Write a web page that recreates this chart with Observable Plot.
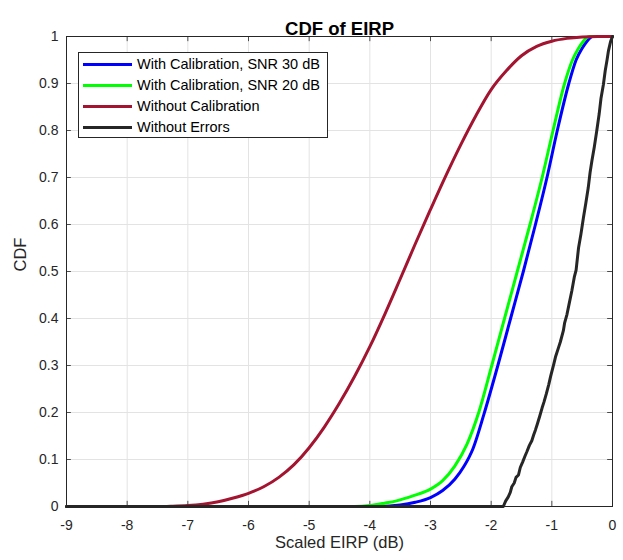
<!DOCTYPE html>
<html><head><meta charset="utf-8">
<script src="https://cdn.jsdelivr.net/npm/d3@7"></script>
<script src="https://cdn.jsdelivr.net/npm/@observablehq/plot@0.6"></script>
<style>
body{margin:0;background:#fff;}
#wrap{position:relative;width:623px;height:560px;font-family:"Liberation Sans",Arial,Helvetica,sans-serif;}
#legend{position:absolute;left:78px;top:52px;width:250px;height:86px;border:1px solid #262626;background:#fff;box-sizing:border-box;}
.row{position:absolute;left:0;height:21px;width:100%;font-size:14.5px;color:#000;}
.row svg{position:absolute;left:4px;top:0;}
.row span{position:absolute;left:58px;top:50%;transform:translateY(-50%);white-space:nowrap;}
</style></head><body><div id="wrap"></div>
<script>
const xTicks = [-9, -8, -7, -6, -5, -4, -3, -2, -1, 0];
const yTicks = [0, 0.1, 0.2, 0.3, 0.4, 0.5, 0.6, 0.7, 0.8, 0.9, 1];
const seriesNames = ["With Calibration, SNR 30 dB", "With Calibration, SNR 20 dB", "Without Calibration", "Without Errors"];
const seriesColors = ["#0000ff", "#00ff00", "#a2142f", "#262626"];

const blueX = [-9, -3.85, -3.5, -3.25, -3.0, -2.8, -2.6, -2.45, -2.3, -2.12, -1.89, -1.68, -1.47, -1.27, -1.08, -0.91, -0.72, -0.60, -0.50, -0.42, -0.37, -0.33, 0];
const blueY = [0, 0, 0.003, 0.009, 0.019, 0.034, 0.058, 0.085, 0.123, 0.196, 0.3, 0.4, 0.5, 0.6, 0.7, 0.8, 0.9, 0.95, 0.975, 0.99, 0.997, 1, 1];

const greenX = [-9, -4.25, -4.0, -3.76, -3.56, -3.28, -3.0, -2.8, -2.6, -2.4, -2.2, -1.99, -1.78, -1.57, -1.36, -1.16, -0.98, -0.79, -0.66, -0.56, -0.48, -0.43, -0.38, 0];
const greenY = [0, 0, 0.002, 0.007, 0.012, 0.023, 0.037, 0.055, 0.086, 0.132, 0.202, 0.3, 0.4, 0.5, 0.6, 0.7, 0.8, 0.9, 0.95, 0.975, 0.99, 0.997, 1, 1];

const redX = [-9, -7.4, -7.25, -7.0, -6.75, -6.5, -6.25, -6.0, -5.75, -5.5, -5.25, -5.0, -4.75, -4.5, -4.25, -4.0, -3.75, -3.5, -3.25, -3.0, -2.75, -2.5, -2.25, -2.0, -1.75, -1.5, -1.25, -1.0, -0.75, -0.5, -0.25, 0];
const redY = [0, 0, 0.0005, 0.002, 0.005, 0.010, 0.018, 0.028, 0.042, 0.062, 0.089, 0.125, 0.169, 0.220, 0.277, 0.340, 0.410, 0.484, 0.559, 0.632, 0.703, 0.770, 0.832, 0.887, 0.927, 0.959, 0.979, 0.990, 0.996, 0.999, 1, 1];

const blackX = [-9, -1.80, -1.76, -1.72, -1.685, -1.66, -1.62, -1.59, -1.55, -1.52, -1.48, -1.44, -1.41, -1.37, -1.33, -1.30, -1.27, -1.24, -1.20, -1.16, -1.13, -1.09, -1.05, -1.02, -0.97, -0.94, -0.89, -0.86, -0.81, -0.79, -0.75, -0.72, -0.67, -0.63, -0.60, -0.56, -0.52, -0.48, -0.44, -0.40, -0.37, -0.34, -0.30, -0.26, -0.22, -0.19, -0.15, -0.12, -0.09, -0.066, -0.03, 0];
const blackY = [0, 0, 0.012, 0.02, 0.03, 0.042, 0.05, 0.062, 0.067, 0.083, 0.095, 0.108, 0.117, 0.13, 0.14, 0.152, 0.163, 0.175, 0.192, 0.21, 0.222, 0.24, 0.26, 0.277, 0.302, 0.318, 0.338, 0.35, 0.374, 0.39, 0.409, 0.428, 0.459, 0.488, 0.503, 0.55, 0.58, 0.614, 0.645, 0.678, 0.71, 0.735, 0.765, 0.799, 0.835, 0.868, 0.898, 0.927, 0.95, 0.97, 0.99, 1];

const seriesX = [blueX, greenX, redX, blackX];
const seriesY = [blueY, greenY, redY, blackY];

const font = '"Liberation Sans", Arial, Helvetica, sans-serif';
const ink = "#262626";

const lineMarks = seriesNames.map((name, i) => {
  const data = seriesX[i].map((x, j) => ({series: name, x, y: seriesY[i][j]}));
  return Plot.line(data, {x: "x", y: "y", stroke: seriesColors[i], strokeWidth: 3,
    curve: i === 3 ? "linear" : "monotone-x", strokeLinejoin: "round"});
});

const tickLen = 0.011, tickLenX = 0.08;
const plot = Plot.plot({
  width: 623, height: 560,
  marginLeft: 66, marginRight: 11, marginTop: 36, marginBottom: 54,
  style: {fontFamily: font, fontSize: "14px", color: ink, background: "#fff", overflow: "visible"},
  x: {domain: [-9, 0]},
  y: {domain: [0, 1]},
  marks: [
    Plot.gridX(xTicks, {stroke: "#e3e3e3", strokeOpacity: 1}),
    Plot.gridY(yTicks, {stroke: "#e3e3e3", strokeOpacity: 1}),
    Plot.frame({stroke: ink, strokeWidth: 1}),
    Plot.ruleX(xTicks, {x: d => d, y1: 0, y2: tickLen, stroke: ink, strokeWidth: 0.8}),
    Plot.ruleX(xTicks, {x: d => d, y1: 1, y2: 1 - tickLen, stroke: ink, strokeWidth: 0.8}),
    Plot.ruleY(yTicks, {y: d => d, x1: -9, x2: -9 + tickLenX, stroke: ink, strokeWidth: 0.8}),
    Plot.ruleY(yTicks, {y: d => d, x1: 0, x2: -tickLenX, stroke: ink, strokeWidth: 0.8}),
    Plot.axisX(xTicks, {tickSize: 0, tickPadding: 14, tickFormat: d => String(d), label: null, fontSize: 14, fill: ink}),
    Plot.axisY(yTicks, {tickSize: 0, tickPadding: 8, tickFormat: d => String(d), label: null, fontSize: 14, fill: ink}),
    ...lineMarks,
    Plot.text(["Scaled EIRP (dB)"], {frameAnchor: "bottom", dy: 41.5, fontSize: 16.5, fill: ink}),
    Plot.text(["CDF"], {frameAnchor: "left", dx: -46, rotate: -90, fontSize: 16.5, fill: ink}),
    Plot.text(["CDF of EIRP"], {frameAnchor: "top", dy: -15, fontSize: 18.5, fontWeight: "bold", fill: "#000"})
  ]
});

const wrap = document.getElementById("wrap");
wrap.appendChild(plot);

const legend = d3.select(wrap).append("div").attr("id", "legend");
seriesNames.forEach((name, i) => {
  const row = legend.append("div").attr("class", "row").style("top", (0.5 + i * 21) + "px");
  const s = row.append("svg").attr("width", 50).attr("height", 21);
  s.append("line").attr("x1", 0).attr("x2", 49).attr("y1", 10.5).attr("y2", 10.5)
    .attr("stroke", seriesColors[i]).attr("stroke-width", 3);
  row.append("span").text(name);
});
</script>
</body></html>
